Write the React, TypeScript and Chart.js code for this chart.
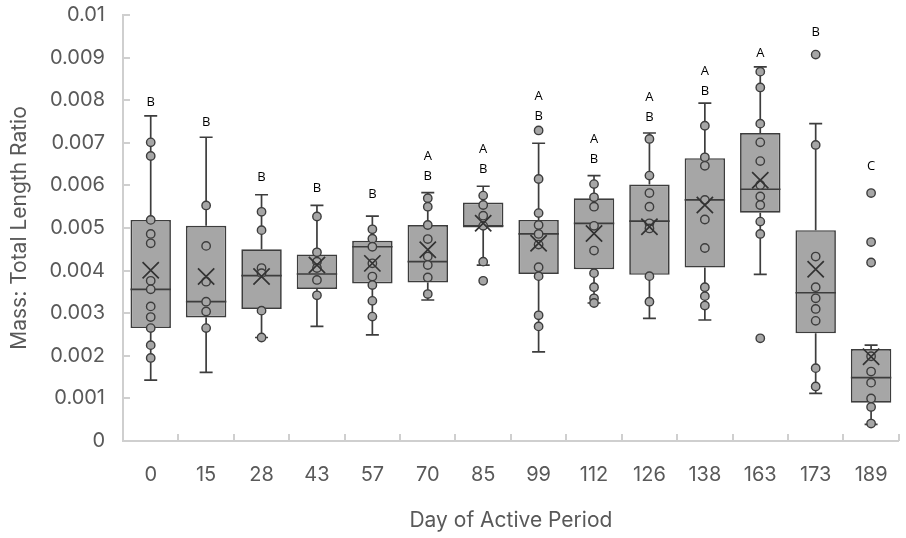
import React, { useEffect, useRef } from 'react';
import { Chart, registerables } from 'chart.js';

Chart.register(...registerables);

// Values are in thousandths of the ratio (axis labelled 0 ... 0.01)
const days = ['0', '15', '28', '43', '57', '70', '85', '99', '112', '126', '138', '163', '173', '189'];
const whiskerLow = [1.43, 1.61, 2.43, 2.69, 2.49, 3.31, 4.13, 2.09, 3.24, 2.88, 2.84, 3.91, 1.12, 0.39];
const q1 = [2.65, 2.90, 3.10, 3.57, 3.70, 3.72, 5.01, 3.92, 4.03, 3.90, 4.07, 5.36, 2.53, 0.90];
const median = [3.56, 3.27, 3.88, 3.92, 4.56, 4.21, 5.05, 4.86, 5.11, 5.16, 5.66, 5.91, 3.48, 1.49];
const q3 = [5.19, 5.05, 4.50, 4.38, 4.70, 5.07, 5.60, 5.19, 5.70, 6.02, 6.64, 7.23, 4.95, 2.16];
const whiskerHigh = [7.63, 7.13, 5.78, 5.53, 5.28, 5.83, 5.98, 6.99, 6.23, 7.23, 7.93, 8.78, 7.45, 2.25];
const mean = [4.01, 3.86, 3.86, 4.13, 4.17, 4.49, 5.11, 4.64, 4.87, 5.03, 5.54, 6.12, 4.03, 1.98];
const points = [
  [7.01, 6.69, 5.19, 4.86, 4.64, 3.76, 3.56, 3.16, 2.91, 2.65, 2.25, 1.95],
  [5.53, 4.58, 3.74, 3.27, 3.04, 2.65],
  [5.38, 4.95, 4.06, 3.94, 3.06, 2.43],
  [5.27, 4.43, 4.21, 4.06, 3.78, 3.42],
  [4.97, 4.75, 4.56, 4.17, 3.86, 3.66, 3.29, 2.92],
  [5.70, 5.50, 5.07, 4.74, 4.33, 4.13, 3.84, 3.45],
  [5.76, 5.54, 5.29, 5.05, 4.21, 3.76],
  [7.29, 6.15, 5.35, 5.07, 4.86, 4.61, 4.08, 3.87, 2.95, 2.69],
  [6.03, 5.72, 5.50, 5.05, 4.47, 3.94, 3.61, 3.35, 3.24],
  [7.09, 6.23, 5.82, 5.50, 5.11, 4.99, 3.87, 3.27],
  [7.40, 6.66, 6.46, 5.66, 5.20, 4.53, 3.61, 3.40, 3.18],
  [8.67, 8.30, 7.45, 7.01, 6.57, 6.01, 5.74, 5.54, 5.15, 4.86, 2.41],
  [9.07, 6.95, 4.33, 3.61, 3.35, 3.10, 2.82, 1.71, 1.28],
  [5.82, 4.67, 4.19, 1.99, 1.63, 1.37, 1.00, 0.80, 0.41],
];
const letters = [['B'], ['B'], ['B'], ['B'], ['B'], ['A', 'B'], ['A', 'B'], ['A', 'B'], ['A', 'B'], ['A', 'B'], ['A', 'B'], ['A'], ['B'], ['C']];
const letterY = [7.94, 7.49, 6.18, 5.93, 5.78, 6.22, 6.38, 7.63, 6.62, 7.61, 8.22, 9.11, 9.59, 6.46];
const yTickLabels = ['0', '0.001', '0.002', '0.003', '0.004', '0.005', '0.006', '0.007', '0.008', '0.009', '0.01'];

const FONT = "Inter, 'Open Sans', sans-serif";
const LETTER_FONT = "'Open Sans', sans-serif";
const TEXT = '#595959';
const AXIS = '#cfcfcf';
const DARK = '#3d3d3d';
const FILL = '#a6a6a6';

const boxPlugin = {
  id: 'boxExtras',
  beforeDatasetsDraw(chart: any) {
    const { ctx, chartArea } = chart;
    const x = chart.scales.x;
    const y = chart.scales.y;
    ctx.save();
    // inward tick marks
    ctx.strokeStyle = AXIS;
    ctx.lineWidth = 2;
    y.ticks.forEach((t: any) => {
      const py = Math.round(y.getPixelForValue(t.value));
      ctx.beginPath();
      ctx.moveTo(chartArea.left, py);
      ctx.lineTo(chartArea.left + 7, py);
      ctx.stroke();
    });
    const half = (x.getPixelForValue(1) - x.getPixelForValue(0)) / 2;
    for (let i = 1; i <= days.length; i++) {
      const px = Math.round(x.getPixelForValue(i) - half);
      ctx.beginPath();
      ctx.moveTo(px, chartArea.bottom);
      ctx.lineTo(px, chartArea.bottom - 7);
      ctx.stroke();
    }
    // whiskers
    ctx.strokeStyle = DARK;
    ctx.lineWidth = 1.7;
    days.forEach((_, i) => {
      const cx = x.getPixelForValue(i);
      const yHi = y.getPixelForValue(whiskerHigh[i]);
      const yLo = y.getPixelForValue(whiskerLow[i]);
      const yQ3 = y.getPixelForValue(q3[i]);
      const yQ1 = y.getPixelForValue(q1[i]);
      ctx.beginPath();
      ctx.moveTo(cx, yHi);
      ctx.lineTo(cx, yQ3);
      ctx.moveTo(cx, yQ1);
      ctx.lineTo(cx, yLo);
      ctx.moveTo(cx - 6.5, yHi);
      ctx.lineTo(cx + 6.5, yHi);
      ctx.moveTo(cx - 6.5, yLo);
      ctx.lineTo(cx + 6.5, yLo);
      ctx.stroke();
    });
    ctx.restore();
  },
  afterDatasetDraw(chart: any, args: any) {
    if (args.meta.type !== 'bar') return;
    const { ctx } = chart;
    const x = chart.scales.x;
    const y = chart.scales.y;
    const bars = args.meta.data;
    ctx.save();
    ctx.strokeStyle = DARK;
    ctx.lineWidth = 1.7;
    days.forEach((_, i) => {
      const w = bars[i].width;
      const cx = x.getPixelForValue(i);
      const py = y.getPixelForValue(median[i]);
      ctx.beginPath();
      ctx.moveTo(cx - w / 2, py);
      ctx.lineTo(cx + w / 2, py);
      ctx.stroke();
    });
    ctx.restore();
  },
  afterDatasetsDraw(chart: any) {
    const { ctx } = chart;
    const x = chart.scales.x;
    const y = chart.scales.y;
    ctx.save();
    ctx.fillStyle = '#000000';
    ctx.font = `13px ${LETTER_FONT}`;
    ctx.textAlign = 'center';
    ctx.textBaseline = 'middle';
    days.forEach((_, i) => {
      const cx = x.getPixelForValue(i);
      const base = y.getPixelForValue(letterY[i]);
      const ls = letters[i];
      ls.forEach((l, j) => {
        ctx.fillText(l, cx, base - (ls.length - 1 - j) * 19.5);
      });
    });
    ctx.restore();
  },
};

export default function App() {
  const ref = useRef<HTMLCanvasElement | null>(null);
  useEffect(() => {
    if (!ref.current) return;
    const pointData: any[] = [];
    points.forEach((arr, i) => arr.forEach((v) => pointData.push({ x: days[i], y: v })));
    const meanData = mean.map((v, i) => ({ x: days[i], y: v }));
    const chart = new Chart(ref.current, {
      type: 'bar',
      data: {
        labels: days,
        datasets: [
          {
            type: 'scatter',
            data: meanData,
            pointStyle: 'crossRot',
            pointRadius: 11.5,
            borderColor: '#333333',
            borderWidth: 1.7,
            backgroundColor: 'transparent',
            order: 1,
          } as any,
          {
            type: 'scatter',
            data: pointData,
            pointRadius: 4.2,
            backgroundColor: FILL,
            borderColor: DARK,
            borderWidth: 1.4,
            order: 2,
          } as any,
          {
            type: 'bar',
            data: days.map((_, i) => [q1[i], q3[i]]),
            backgroundColor: FILL,
            borderColor: DARK,
            borderWidth: 1.7,
            borderSkipped: false,
            barPercentage: 0.73,
            categoryPercentage: 1,
            order: 3,
          } as any,
        ],
      },
      options: {
        responsive: false,
        animation: false,
        devicePixelRatio: 1,
        layout: { padding: { top: 15, left: 0, right: 0, bottom: 0 } },
        plugins: { legend: { display: false }, tooltip: { enabled: false } },
        scales: {
          x: {
            type: 'category',
            offset: true,
            grid: { display: false, drawTicks: false },
            border: { display: true, color: AXIS, width: 2 },
            ticks: { color: TEXT, font: { family: FONT, size: 20 }, padding: 22, maxRotation: 0, autoSkip: false },
            title: {
              display: true,
              text: 'Day of Active Period',
              color: TEXT,
              font: { family: FONT, size: 21 },
              padding: { top: 0, bottom: 5 },
            },
            afterFit(s: any) {
              s.height = 97;
              s.paddingLeft = 0;
              s.paddingRight = 0;
            },
          } as any,
          y: {
            min: 0,
            max: 10,
            grid: { display: false, drawTicks: false },
            border: { display: true, color: AXIS, width: 2 },
            ticks: {
              stepSize: 1,
              color: TEXT,
              font: { family: FONT, size: 20 },
              padding: 18,
              callback: (_v: any, i: number) => yTickLabels[i],
            },
            title: {
              display: true,
              text: 'Mass: Total Length Ratio',
              color: TEXT,
              font: { family: FONT, size: 21 },
              padding: { top: 7, bottom: 0 },
            },
            afterFit(s: any) {
              s.width = 123;
              s.paddingTop = 0;
              s.paddingBottom = 0;
            },
          } as any,
        },
      },
      plugins: [boxPlugin],
    });
    return () => chart.destroy();
  }, []);
  return (
    <div style={{ position: 'fixed', left: 0, top: 0, width: 906, height: 538, overflow: 'hidden', background: '#ffffff' }}>
      <canvas ref={ref} width={912} height={538} style={{ display: 'block', width: 912, height: 538 }} />
    </div>
  );
}
